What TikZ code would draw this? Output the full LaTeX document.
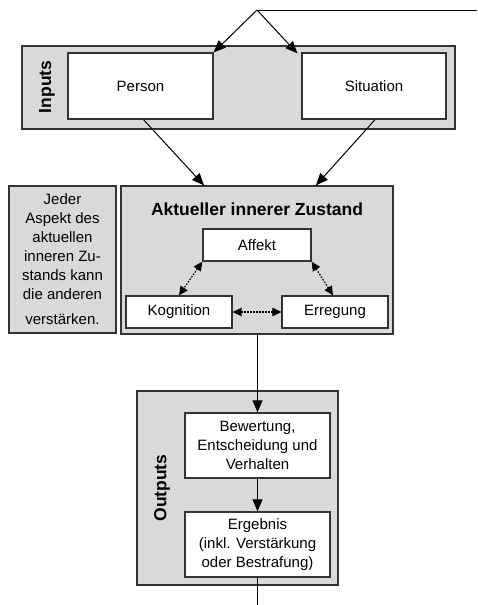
\documentclass[tikz,border=0pt]{standalone}
\usepackage{fontspec}
\setmainfont{Liberation Sans}
\usetikzlibrary{arrows.meta}
\definecolor{bordergray}{RGB}{51,51,51}
\definecolor{fillgray}{RGB}{217,217,217}
\begin{document}
\begin{tikzpicture}[x=1pt,y=-1pt,
  every node/.style={font=\fontsize{15}{19}\selectfont},
  graybox/.style={draw=bordergray,line width=1.3pt,fill=fillgray,minimum width=#1,inner sep=0pt},
  whitebox/.style={draw=bordergray,line width=1.3pt,fill=white,inner sep=0pt,align=center},
  boldlabel/.style={font=\fontsize{17.5}{21}\selectfont\bfseries},
  conn/.style={draw=black,line width=1pt,-{Triangle[length=12pt,width=10pt]}},
  plainline/.style={draw=black,line width=1pt},
  dotconn/.style={draw=black,line width=1.2pt,dash pattern=on 1.5pt off 1.5pt,{Triangle[length=9pt,width=8.5pt]}-{Triangle[length=9pt,width=8.5pt]}}
]
\useasboundingbox (0,0) rectangle (477,605);

% Inputs
\node[graybox=433pt,minimum height=83pt] (inputs) at (238.5,87.5) {};
\node[boldlabel,rotate=90] (inlabel) at (47,87) {Inputs};
\node[whitebox,minimum width=145pt,minimum height=66pt] (person) at (140.5,86) {Person};
\node[whitebox,minimum width=144pt,minimum height=66pt] (sit) at (374,86) {Situation};

\coordinate (apex) at (257,10);
\coordinate (topright) at (477,10);
\draw[plainline] (apex) -- (topright);
\draw[conn] (apex) -- (person.north east);
\draw[conn] (apex) -- ([xshift=-4pt,yshift=-1pt]sit.north west);

% Zustand
\node[graybox=272pt,minimum height=148pt] (zust) at (257,260) {};
\node[boldlabel] (ztitle) at (257,209) {Aktueller innerer Zustand};
\node[graybox=107pt,minimum height=147pt,align=center] (note) at (62.5,259.5)
  {Jeder\\Aspekt des\\aktuellen\\inneren Zu-\\stands kann\\die anderen\\[6pt]verstärken.};
\node[whitebox,minimum width=108pt,minimum height=32pt] (affekt) at (257,245) {Affekt};
\node[whitebox,minimum width=106pt,minimum height=32pt] (kog) at (179,312) {Kognition};
\node[whitebox,minimum width=106pt,minimum height=32pt] (erreg) at (335,312) {Erregung};

\draw[conn] ([xshift=3pt]person.south) -- ([xshift=-53pt]zust.north);
\draw[conn] ([xshift=1pt]sit.south) -- ([xshift=59pt]zust.north);

\draw[dotconn] (affekt.south west) -- (kog.north);
\draw[dotconn] (affekt.south east) -- ([xshift=-2pt]erreg.north);
\draw[dotconn] (kog.east) -- (erreg.west);

% Outputs
\node[graybox=201pt,minimum height=194pt] (outputs) at (237.5,488) {};
\node[boldlabel,rotate=90] (outlabel) at (162,488) {Outputs};
\node[whitebox,minimum width=145pt,minimum height=65pt] (bew) at (257.5,445.5)
  {Bewertung,\\Entscheidung und\\Verhalten};
\node[whitebox,minimum width=145pt,minimum height=65pt] (erg) at (257.5,544.5)
  {Ergebnis\\(inkl. Verstärkung\\oder Bestrafung)};

\coordinate (bottom) at (257.5,605);
\draw[conn] ([xshift=0.5pt]zust.south) -- (bew.north);
\draw[conn] (bew.south) -- (erg.north);
\draw[plainline] (erg.south) -- (bottom);
\end{tikzpicture}
\end{document}
